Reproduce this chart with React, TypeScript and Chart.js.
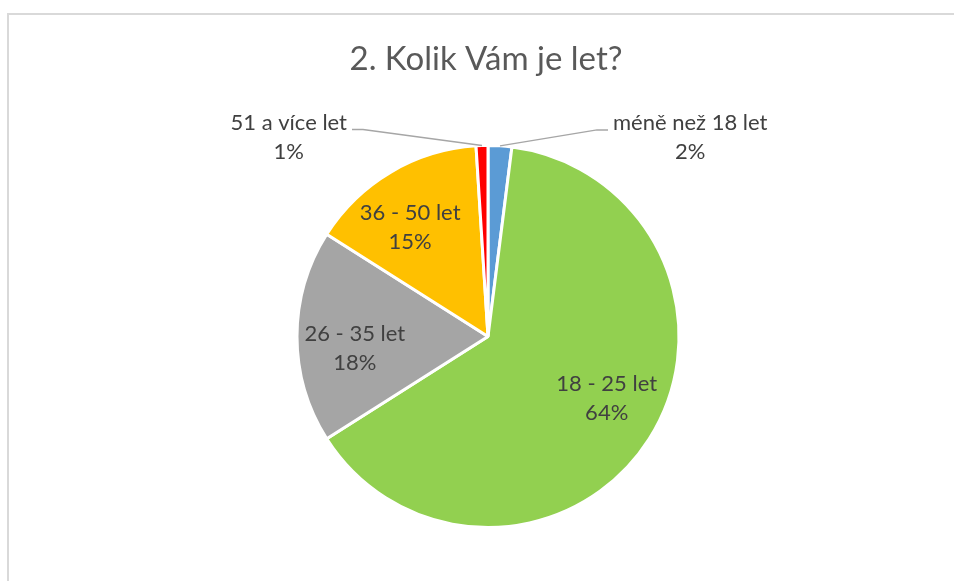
import React, { useEffect, useRef } from "react";
import { Chart, registerables } from "chart.js";

Chart.register(...registerables);

const TITLE = "2. Kolik Vám je let?";
const categories = ["méně než 18 let", "18 - 25 let", "26 - 35 let", "36 - 50 let", "51 a více let"];
const percentages = [2, 64, 18, 15, 1];
const sliceColors = ["#5B9BD5", "#92D050", "#A5A5A5", "#FFC000", "#FF0000"];

const FONT = "Lato, 'Open Sans', sans-serif";
const LABEL_COLOR = "#404040";

const excelLabels = {
  id: "excelLabels",
  afterDatasetsDraw(chart: any) {
    const ctx = chart.ctx as CanvasRenderingContext2D;
    const meta = chart.getDatasetMeta(0);
    const data = chart.data.datasets[0].data as number[];
    const labels = chart.data.labels as string[];
    ctx.save();

    // title
    const area = chart.chartArea;
    ctx.font = `33px ${FONT}`;
    ctx.fillStyle = "#595959";
    ctx.textAlign = "center";
    ctx.textBaseline = "alphabetic";
    ctx.fillText(TITLE, (area.left + area.right) / 2 - 2, 70);

    ctx.font = `22px ${FONT}`;
    ctx.fillStyle = LABEL_COLOR;
    ctx.textAlign = "center";
    ctx.textBaseline = "middle";
    meta.data.forEach((arc: any, i: number) => {
      const { x, y, startAngle, endAngle, outerRadius } = arc.getProps(
        ["x", "y", "startAngle", "endAngle", "outerRadius"],
        true
      );
      const mid = (startAngle + endAngle) / 2;
      const l1 = labels[i];
      const l2 = `${data[i]}%`;
      if (data[i] >= 5) {
        const a = mid - (5 * Math.PI) / 180;
        const r = outerRadius * 0.7;
        const cx = x + Math.cos(a) * r;
        const cy = y + Math.sin(a) * r;
        ctx.fillText(l1, cx, cy - 14.5);
        ctx.fillText(l2, cx, cy + 14.5);
      } else {
        const ax = x + Math.cos(mid) * outerRadius;
        const ay = y + Math.sin(mid) * outerRadius;
        const side = Math.cos(mid) >= 0 ? 1 : -1;
        const ex = ax + side * (side > 0 ? 97 : 119);
        const ey = ay - 16;
        const hx = ex + side * 11;
        ctx.strokeStyle = "#A6A6A6";
        ctx.lineWidth = 1.5;
        ctx.beginPath();
        ctx.moveTo(ax, ay);
        ctx.lineTo(ex, ey);
        ctx.lineTo(hx, ey);
        ctx.stroke();
        const w = Math.max(ctx.measureText(l1).width, ctx.measureText(l2).width);
        const cx = hx + side * (5 + w / 2);
        ctx.fillText(l1, cx, ey - 7);
        ctx.fillText(l2, cx, ey + 22);
      }
    });
    ctx.restore();
  },
};

export default function App() {
  const canvasRef = useRef<HTMLCanvasElement | null>(null);

  useEffect(() => {
    if (!canvasRef.current) return;
    const chart = new Chart(canvasRef.current, {
      type: "pie",
      data: {
        labels: categories,
        datasets: [
          {
            data: percentages,
            backgroundColor: sliceColors,
            borderColor: "#FFFFFF",
            borderWidth: 3,
          },
        ],
      },
      options: {
        responsive: false,
        animation: false,
        devicePixelRatio: 1,
        events: [],
        layout: { padding: { top: 144, bottom: 52, left: 22, right: 0 } },
        plugins: {
          legend: { display: false },
          tooltip: { enabled: false },
          title: { display: false },
        },
      },
      plugins: [excelLabels],
    });
    return () => chart.destroy();
  }, []);

  return (
    <div
      style={{
        position: "fixed",
        left: 0,
        top: 0,
        width: 954,
        height: 581,
        overflow: "hidden",
        background: "#FFFFFF",
      }}
    >
      <div
        style={{
          position: "absolute",
          left: 7,
          top: 13,
          width: 1000,
          height: 1000,
          border: "2px solid #D9D9D9",
          boxSizing: "border-box",
        }}
      />
      <canvas
        ref={canvasRef}
        width={954}
        height={581}
        style={{ position: "absolute", left: 0, top: 0, width: 954, height: 581 }}
      />
    </div>
  );
}
